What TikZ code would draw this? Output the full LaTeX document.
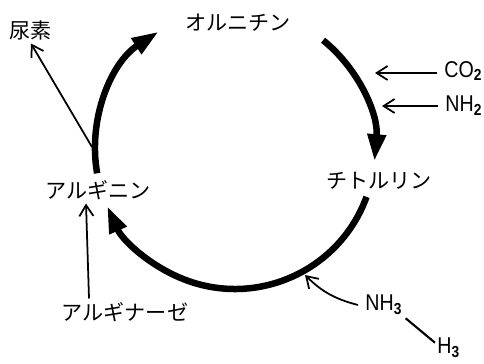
\documentclass[tikz,border=0pt]{standalone}
\usepackage{fontspec}
\newfontfamily\chemfont[FakeStretch=0.86]{Liberation Sans}
\newfontfamily\jpfont{Noto Sans CJK JP}
\usetikzlibrary{arrows.meta}

\begin{document}
\begin{tikzpicture}[
    x=0.02cm,y=0.02cm,
    compound/.style={font=\jpfont\fontsize{12}{14}\selectfont,inner sep=2pt},
    chem/.style={font=\chemfont\fontsize{13}{15}\selectfont,inner sep=4pt,anchor=west},
    cycle/.style={line width=3.7pt,-{Triangle[length=5.4mm,width=3.5mm]}},
    arrow/.style={line width=1pt,-{Straight Barb[length=2.2mm,width=2.8mm]}}
]
    \useasboundingbox (0,0) rectangle (484,363);
    \coordinate (ctr) at (235,214);

    % Compounds
    \node[compound] (orn) at (238,340) {オルニチン};
    \node[compound] (cit) at (379,182) {チトルリン};
    \node[compound] (arg) at (98,173) {アルギニン};
    \node[compound] (urea) at (31,333) {尿素};
    \node[compound] (argase) at (125,51) {アルギナーゼ};

    \node[chem] (co2) at (437,292) {CO\textsubscript{\textbf{2}}};
    \node[chem] (nh2) at (438,257) {NH\textsubscript{\textbf{2}}};
    \node[chem] (nh3) at (358,58) {NH\textsubscript{\textbf{3}}};
    \node[chem] (h3) at (430,15) {H\textsubscript{\textbf{3}}};

    % Cycle
    \draw[cycle] (ctr) ++(190:2.8cm) arc[start angle=190,end angle=123,radius=2.8cm];
    \draw[cycle] (ctr) ++(51:2.8cm) arc[start angle=51,end angle=-5,radius=2.8cm];
    \draw[cycle] (ctr) ++(-20:2.8cm) arc[start angle=-20,end angle=-156,radius=2.8cm];

    % Inputs and outputs
    \coordinate (ureaout) at (92,216);
    \coordinate (cotip) at (375,290);
    \coordinate (nhtip) at (382,257);
    \coordinate (nh3tip) at (305,88);
    \draw[arrow] (ureaout) -- (urea.south);
    \draw[arrow] (co2.west |- cotip) -- (cotip);
    \draw[arrow] (nh2.west |- nhtip) -- (nhtip);
    \draw[arrow] (nh3.west) to[bend left=15] (nh3tip);
    \draw[line width=1.2pt] ([shift={(-0.08cm,0.08cm)}]nh3.south east) -- ([shift={(0.1cm,-0.24cm)}]h3.north west);
    \draw[arrow] ([xshift=-0.72cm]argase.north) -- ([xshift=-0.24cm]arg.south);
\end{tikzpicture}
\end{document}
